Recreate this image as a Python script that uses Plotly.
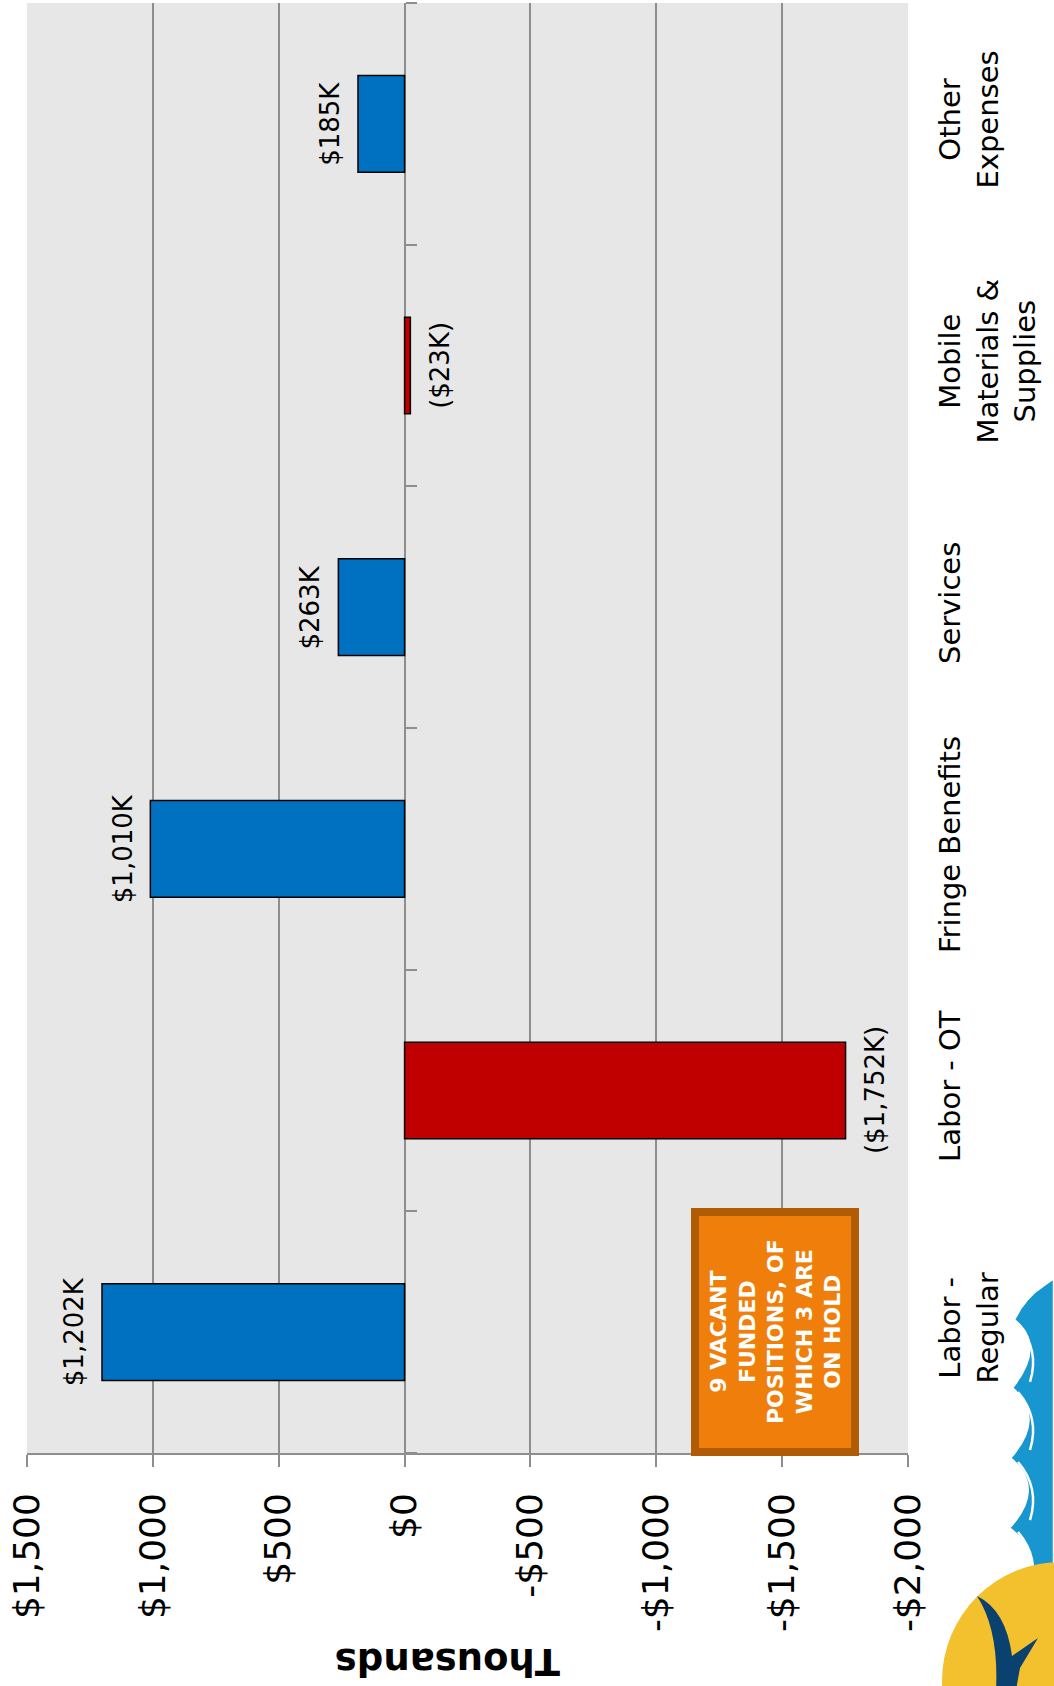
import plotly.graph_objects as go

# ---------------- data ----------------
categories = ["Labor - Regular", "Labor - OT", "Fringe Benefits", "Services",
              "Mobile Materials & Supplies", "Other Expenses"]
category_labels = ["Labor -<br>Regular", "Labor - OT", "Fringe Benefits", "Services",
                   "Mobile<br>Materials &<br>Supplies", "Other<br>Expenses"]
values = [1202, -1752, 1010, 263, -23, 185]   # thousands of dollars
x_tick_values = [1500, 1000, 500, 0, -500, -1000, -1500, -2000]
x_tick_labels = ["$1,500", "$1,000", "$500", "$0", "-$500", "-$1,000", "-$1,500", "-$2,000"]
note_text = "9 VACANT<br>FUNDED<br>POSITIONS, OF<br>WHICH 3 ARE<br>ON HOLD"
axis_title = "Thousands"

# ---------------- layout geometry ----------------
W, H = 1054, 1686
ML, MR, MT, MB = 27, 146, 3, 233
PW, PH = W - ML - MR, H - MT - MB
X_MAX, X_MIN = 1500, -2000


def px(x):
    return (x - ML) / PW


def py(y):
    return (H - MB - y) / PH


def P(x, y):
    return "{:.5f},{:.5f}".format(px(x), py(y))


FONT = "DejaVu Sans"
BLUE, RED = "#0070C0", "#C00000"
GRID = "#8E8E8E"

fig = go.Figure()

fig.add_trace(go.Bar(
    orientation="h", x=values, y=categories, width=0.4,
    marker=dict(color=[BLUE if v >= 0 else RED for v in values],
                line=dict(color="black", width=1.5)),
    hoverinfo="skip", showlegend=False,
))

# invisible trace to host the category separator ticks on the zero line
fig.add_trace(go.Scatter(x=[0], y=[0], yaxis="y2", mode="markers",
                         marker=dict(opacity=0), hoverinfo="skip", showlegend=False))


def fmt(v):
    s = "${:,}K".format(abs(v))
    return s if v >= 0 else "(" + s + ")"


annotations = []
for cat, v in zip(categories, values):
    annotations.append(dict(
        x=v, y=cat, xref="x", yref="y", text=fmt(v), showarrow=False,
        textangle=-90, xanchor="center", yanchor="middle",
        xshift=-28 if v >= 0 else 29,
        font=dict(family=FONT, size=26, color="black"),
    ))

# note box text
annotations.append(dict(
    x=px(775), y=py(1332), xref="paper", yref="paper", text=note_text,
    showarrow=False, textangle=-90, xanchor="center", yanchor="middle",
    font=dict(family="DejaVu Sans", size=22, color="white", weight="bold"),
))

# upside-down axis title
annotations.append(dict(
    x=px(448), y=py(1662), xref="paper", yref="paper", text="<b>" + axis_title + "</b>",
    showarrow=False, textangle=180, xanchor="center", yanchor="middle",
    font=dict(family=FONT, size=37, color="black"),
))

shapes = []
# orange note box
shapes.append(dict(type="rect", xref="paper", yref="paper",
                   x0=px(695), x1=px(855), y0=py(1452), y1=py(1212),
                   fillcolor="#EF7E0A", line=dict(color="#B05C04", width=8), layer="above"))

# ---- logo (decorative) ----
wave_path = ("M " + P(1054, 1278) + " L " + P(1044, 1285) +
             " Q " + P(1024, 1298) + " " + P(1014, 1320) +
             " Q " + P(1046, 1345) + " " + P(1012, 1388) +
             " Q " + P(1046, 1418) + " " + P(1010, 1458) +
             " Q " + P(1046, 1488) + " " + P(1009, 1528) +
             " Q " + P(1046, 1556) + " " + P(1020, 1596) +
             " L " + P(1054, 1596) + " Z")
shapes.append(dict(type="path", xref="paper", yref="paper", path=wave_path,
                   fillcolor="#1796CF", line=dict(color="white", width=2.5), layer="above"))
# white highlight arcs on the waves
for y0 in (1320, 1388, 1458, 1528):
    arc = "M " + P(1018, y0 + 4) + " Q " + P(1040, y0 + 30) + " " + P(1030, y0 + 62)
    shapes.append(dict(type="path", xref="paper", yref="paper", path=arc,
                       line=dict(color="white", width=2.5), layer="above"))
shapes.append(dict(type="circle", xref="paper", yref="paper",
                   x0=px(942), x1=px(1180), y0=py(1800), y1=py(1562),
                   fillcolor="#F3C12D", line=dict(color="#F3C12D", width=0), layer="above"))
bird_path = ("M " + P(977, 1596) + " Q " + P(1006, 1610) + " " + P(1012, 1656) +
             " L " + P(1038, 1638) + " L " + P(1020, 1668) + " L " + P(1016, 1690) +
             " L " + P(996, 1690) + " Q " + P(999, 1630) + " " + P(977, 1596) + " Z")
shapes.append(dict(type="path", xref="paper", yref="paper", path=bird_path,
                   fillcolor="#0B416F", line=dict(width=0), layer="above"))

zero_pos = (X_MAX - 0) / (X_MAX - X_MIN)

fig.update_layout(
    width=W, height=H,
    margin=dict(l=ML, r=MR, t=MT, b=MB, pad=0, autoexpand=False),
    paper_bgcolor="white", plot_bgcolor="#E7E7E7",
    font=dict(family=FONT, color="black"),
    bargap=0.6,
    xaxis=dict(
        range=[X_MAX, X_MIN], tickmode="array", tickvals=x_tick_values, ticktext=x_tick_labels,
        tickangle=-90, tickfont=dict(family=FONT, size=36),
        showgrid=True, gridcolor=GRID, gridwidth=1.5,
        zeroline=True, zerolinecolor=GRID, zerolinewidth=1.5,
        showline=True, linecolor=GRID, linewidth=1.5,
        ticks="outside", ticklen=12, tickcolor=GRID, tickwidth=1.5,
        ticklabelstandoff=12, automargin=False,
    ),
    yaxis=dict(
        type="category", categoryorder="array", categoryarray=categories,
        tickmode="array", tickvals=categories, ticktext=category_labels,
        range=[-0.5, len(categories) - 0.5],
        side="right", tickangle=-90, tickfont=dict(family=FONT, size=29),
        showgrid=False, zeroline=False, showline=False, ticks="",
        ticklabelstandoff=22, automargin=False,
    ),
    yaxis2=dict(
        overlaying="y", anchor="free", position=zero_pos, side="right",
        range=[-0.5, len(categories) - 0.5],
        tickmode="array", tickvals=[i - 0.5 for i in range(len(categories) + 1)],
        ticks="outside", ticklen=11, tickcolor=GRID, tickwidth=1.5,
        showticklabels=False, showgrid=False, zeroline=False, showline=False,
        automargin=False,
    ),
    annotations=annotations,
    shapes=shapes,
)

fig.write_html("out.html", config={"displayModeBar": False},
               post_script="document.body.style.margin='0';document.body.style.overflow='hidden';")
